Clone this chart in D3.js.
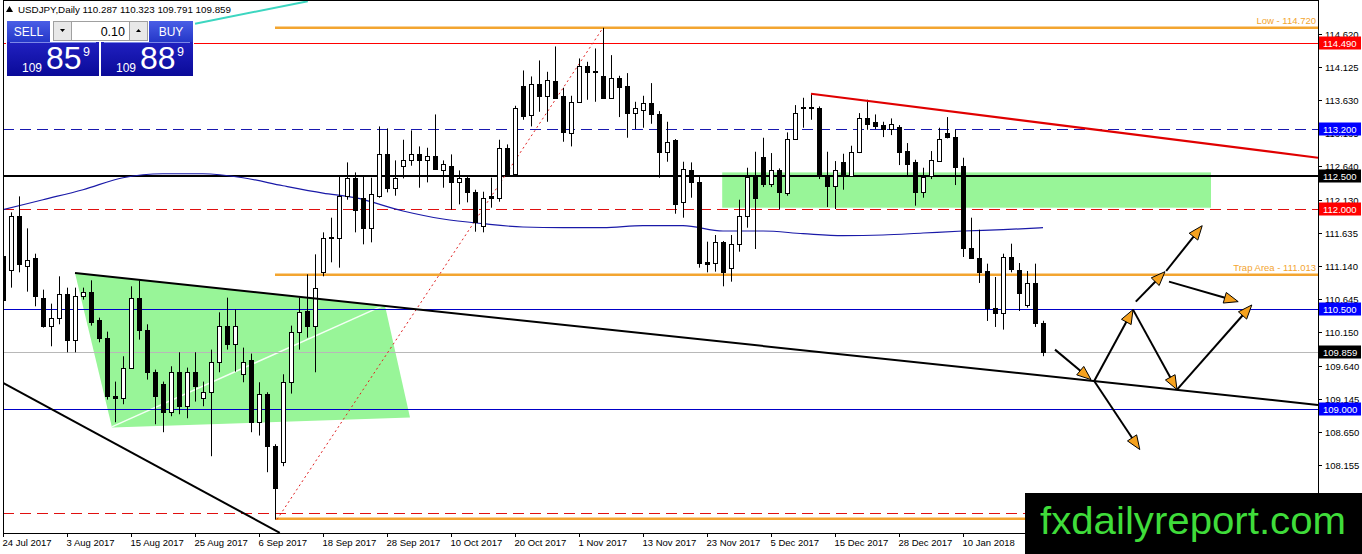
<!DOCTYPE html>
<html><head><meta charset="utf-8">
<script src="https://cdn.jsdelivr.net/npm/d3@7"></script>
<style>
body{margin:0;background:#fff;overflow:hidden;}
svg{display:block;font-family:"Liberation Sans",Arial,sans-serif;}
</style>
</head><body>
<svg id="c" width="1362" height="554"></svg>
<script>
// ---------- DATA ----------
const symbolTitle = "USDJPY,Daily  110.287 110.323 109.791 109.859";
const dateLabels = ["24 Jul 2017","3 Aug 2017","15 Aug 2017","25 Aug 2017","6 Sep 2017","18 Sep 2017","28 Sep 2017","10 Oct 2017","20 Oct 2017","1 Nov 2017","13 Nov 2017","23 Nov 2017","5 Dec 2017","15 Dec 2017","28 Dec 2017","10 Jan 2018"];
const dateLabelBars = [0,8,16,24,32,40,48,56,64,72,80,88,96,104,112,120];
const priceTicks = [114.620,114.125,113.630,113.135,112.640,112.130,111.635,111.140,110.645,110.150,109.640,109.145,108.650,108.155,107.660];

// daily candles [open, high, low, close]
const candles = [
[111.30,111.39,110.61,110.64],[111.09,111.95,110.82,111.89],[111.89,112.19,111.05,111.17],[111.15,111.71,110.76,111.24],
[111.26,111.33,110.54,110.69],[110.66,110.79,110.22,110.24],[110.24,110.58,109.94,110.36],[110.36,110.99,110.27,110.73],
[110.73,110.82,109.85,110.03],[110.03,110.82,109.85,110.69],[110.69,110.82,110.64,110.75],[110.75,110.93,110.25,110.31],
[110.33,110.37,110.00,110.06],[110.06,110.16,109.14,109.19],[109.20,109.41,108.80,109.17],[109.17,109.79,109.07,109.62],
[109.62,110.84,109.60,110.66],[110.66,110.93,110.04,110.18],[110.19,110.27,109.44,109.55],[109.56,109.59,108.77,109.19],
[109.37,109.41,108.65,108.96],[108.96,109.64,108.89,109.55],[109.56,109.85,108.92,109.04],[109.04,109.62,108.86,109.56],
[109.56,109.85,109.11,109.35],[109.17,109.41,109.04,109.25],[109.25,109.89,108.29,109.70],[109.70,110.45,109.55,110.24],
[110.24,110.67,109.89,109.98],[109.97,110.49,109.56,110.24],[109.53,109.92,109.40,109.71],[109.73,109.83,108.65,108.80],
[108.80,109.40,108.60,109.22],[109.22,109.25,108.05,108.45],[108.45,108.47,107.34,107.82],[108.21,109.52,108.14,109.40],
[109.40,110.25,109.23,110.15],[110.15,110.67,109.89,110.46],[110.47,111.02,110.07,110.24],[110.24,111.32,109.55,110.82],
[111.06,111.65,110.99,111.56],[111.56,111.87,111.20,111.58],[111.57,112.49,111.12,112.20],[112.20,112.70,112.14,112.46],
[112.46,112.55,111.65,111.99],[112.16,112.49,111.47,111.72],[111.72,112.47,111.50,112.22],[112.20,113.24,112.17,112.82],
[112.82,113.21,112.25,112.32],[112.32,112.73,112.20,112.47],[112.64,113.04,112.46,112.73],[112.74,113.18,112.65,112.83],
[112.83,112.94,112.32,112.73],[112.74,112.92,112.40,112.80],[112.80,113.42,112.59,112.60],[112.58,112.73,112.32,112.67],
[112.65,112.82,111.99,112.41],[112.41,112.58,112.07,112.47],[112.47,112.50,112.10,112.25],[112.26,112.29,111.66,111.81],
[111.75,112.26,111.65,112.17],[112.19,112.47,112.02,112.16],[112.17,113.04,112.11,112.91],[112.91,112.97,112.50,112.52],
[112.52,113.55,112.50,113.51],[113.85,114.08,113.34,113.40],[113.41,113.99,113.24,113.88],[113.88,114.23,113.46,113.70],
[113.70,114.06,113.31,113.94],[113.92,114.44,113.66,113.67],[113.70,113.82,113.01,113.16],[113.14,113.70,112.94,113.61],
[113.61,114.26,113.60,114.15],[114.15,114.21,113.64,114.06],[114.05,114.41,113.61,114.07],[113.99,114.72,113.66,113.67],
[113.67,114.31,113.66,113.97],[113.97,114.00,113.38,113.83],[113.85,114.04,113.07,113.44],[113.44,113.61,113.20,113.52],
[113.49,113.70,113.22,113.59],[113.59,113.89,113.28,113.43],[113.43,113.47,112.47,112.85],[112.85,113.31,112.71,113.01],
[113.03,113.05,111.93,112.08],[112.11,112.71,111.87,112.60],[112.58,112.70,112.17,112.41],[112.41,112.49,111.12,111.19],
[111.21,111.51,111.05,111.18],[111.19,111.61,111.06,111.51],[111.50,111.52,110.84,111.06],[111.11,111.61,110.91,111.47],
[111.47,112.14,111.36,111.90],[111.89,112.62,111.72,112.48],[112.48,112.86,111.40,112.17],[112.78,113.07,112.33,112.38],
[112.38,112.84,112.33,112.59],[112.59,112.61,111.99,112.26],[112.24,113.15,112.20,113.05],[113.05,113.56,113.04,113.44],
[113.53,113.67,113.22,113.51],[113.53,113.73,113.34,113.51],[113.52,113.54,112.45,112.50],[112.50,112.86,112.03,112.35],
[112.35,112.72,112.00,112.59],[112.71,112.83,112.29,112.50],[112.50,112.95,112.49,112.86],[112.86,113.44,112.84,113.37],
[113.37,113.64,113.19,113.28],[113.30,113.42,113.20,113.25],[113.26,113.31,113.08,113.20],[113.20,113.36,113.11,113.28],
[113.23,113.26,112.66,112.86],[112.87,112.99,112.48,112.68],[112.71,112.74,112.05,112.26],[112.26,112.62,112.17,112.48],
[112.50,112.87,112.45,112.74],[112.72,113.22,112.71,113.05],[113.14,113.38,113.06,113.08],[113.08,113.19,112.36,112.63],
[112.65,112.77,111.28,111.42],[111.42,111.87,111.25,111.26],[111.26,111.69,110.89,111.05],[111.07,111.18,110.32,110.52],
[110.52,110.98,110.23,110.44],[110.44,111.33,110.19,111.28],[111.28,111.48,111.05,111.10],[111.09,111.19,110.47,110.74],
[110.56,111.07,110.52,110.89],[110.89,111.18,110.23,110.29],[110.287,110.323,109.791,109.859]
];

// moving average samples [bar, price]
const maBars   = [0,5,10,15,20,25,30,35,40,44,50,55,60,65,70,75,80,85,90,95,100,105,110,115,120,125,130];
const maValues = [111.99,112.14,112.29,112.47,112.53,112.53,112.47,112.35,112.24,112.17,111.97,111.85,111.78,111.73,111.72,111.72,111.75,111.75,111.67,111.67,111.63,111.60,111.61,111.64,111.67,111.69,111.72];

// horizontal levels
const levelValues = [114.490,113.200,112.500,112.000,110.500,109.859,109.000,107.440];
const levelLabels = ["114.490","113.200","112.500","112.000","110.500","109.859","109.000",null];
const partialLevels = [114.720,111.013,107.350];          // start at bar 34
const partialLevelText = ["Low - 114.720","Trap Area - 111.013",null];

// trend lines [bar1, price1, bar2, price2]
const blackTrend  = [9,111.04,164.375,109.06];
const blackLower  = [0,109.39,34.6,107.14];
const redTrend    = [101,113.73,164.375,112.77];
const redDotted   = [34.25,107.34,75,114.72];
const tealLine    = [24,114.78,38.1,115.12];
// zones
const greenPoly   = [[9,111.04],[47.75,110.55],[50.875,108.87],[13.625,108.72]];
const greenInner  = [13.6,108.73,47.5,110.55];
const greenRect   = [89.9,112.55,151,112.02];
// scenario arrows [bar1, price1, bar2, price2]
const arrows = [
 [131.5,109.89,136,109.44],[136.4,109.42,141.25,110.49],[141.25,110.49,146.75,109.29],
 [146.75,109.29,156.1,110.56],[141.6,110.61,145.25,111.06],[145.4,111.07,149.9,111.75],
 [145.75,110.91,154.4,110.61],[136.4,109.42,142.1,108.39]
];

// ---------- CHART ----------
const svg = d3.select('#c');
const L = 3, R = 1318, T = 0, B = 533;
const x = d3.scaleLinear().domain([0,130]).range([3,1043]);
const y = d3.scaleLinear().domain([107.1375,115.1375]).range([533,0]);

svg.append('rect').attr('width',1362).attr('height',554).attr('fill','#fff');
svg.append('defs').append('clipPath').attr('id','clip')
  .append('rect').attr('x',L).attr('y',T).attr('width',R-L).attr('height',B-T);
const g = svg.append('g').attr('clip-path','url(#clip)');

// zones
g.append('polygon').attr('points',greenPoly.map(p=>[x(p[0]),y(p[1])].join(',')).join(' '))
  .attr('fill','#98f598');
g.append('line').attr('x1',x(greenInner[0])).attr('y1',y(greenInner[1]))
  .attr('x2',x(greenInner[2])).attr('y2',y(greenInner[3]))
  .attr('stroke','#f4fff4').attr('stroke-width',1.5);
g.append('rect').attr('x',x(greenRect[0])).attr('y',y(greenRect[1]))
  .attr('width',x(greenRect[2])-x(greenRect[0])).attr('height',y(greenRect[3])-y(greenRect[1]))
  .attr('fill','#98f598');

// horizontal levels
const levelStyle = [
 {c:'#ff0000',w:1,d:null},{c:'#1818b0',w:1,d:'11,6'},{c:'#000',w:2,d:null},{c:'#e01010',w:1,d:'11,6'},
 {c:'#0000c8',w:1,d:null},{c:'#b8b8b8',w:1,d:null},{c:'#0000c8',w:1,d:null},{c:'#e01010',w:1,d:'11,6'}
];
levelValues.forEach((v,i)=>{
  const yy = Math.round(y(v))+ (levelStyle[i].w===1?0.5:0);
  g.append('line').attr('x1',L).attr('x2',R).attr('y1',yy).attr('y2',yy)
   .attr('stroke',levelStyle[i].c).attr('stroke-width',levelStyle[i].w)
   .attr('stroke-dasharray',levelStyle[i].d);
});
partialLevels.forEach((v,i)=>{
  const yy = y(v);
  g.append('line').attr('x1',x(34)).attr('x2',R).attr('y1',yy).attr('y2',yy)
   .attr('stroke','#f3a530').attr('stroke-width',2.5);
  if(partialLevelText[i]){
    g.append('text').attr('x',R-2).attr('y',yy-4).attr('text-anchor','end')
     .attr('font-size',9.5).attr('fill','#f3a530').text(partialLevelText[i]);
  }
});

// moving average
g.append('path').datum(maBars.map((b,i)=>[b,maValues[i]]))
  .attr('d',d3.line().x(d=>x(d[0])).y(d=>y(d[1])).curve(d3.curveMonotoneX))
  .attr('fill','none').attr('stroke','#1a1aa8').attr('stroke-width',1.2);

// trend lines
function seg(a,color,w,dash){
  g.append('line').attr('x1',x(a[0])).attr('y1',y(a[1])).attr('x2',x(a[2])).attr('y2',y(a[3]))
   .attr('stroke',color).attr('stroke-width',w).attr('stroke-dasharray',dash||null);
}
seg(redDotted,'#e02020',1,'2,3');

// candles
const cg = g.append('g');
candles.forEach((c,i)=>{
  const cx = Math.round(x(i)) + 0.5;
  const [o,h,l,cl] = c;
  cg.append('line').attr('x1',cx).attr('x2',cx).attr('y1',y(h)).attr('y2',y(l))
    .attr('stroke','#000').attr('stroke-width',1);
  const top = Math.round(y(Math.max(o,cl))), bot = Math.round(y(Math.min(o,cl)));
  const hgt = Math.max(1, bot-top);
  if(cl >= o){
    cg.append('rect').attr('x',cx-2).attr('y',top+0.5).attr('width',4).attr('height',hgt)
      .attr('fill','#fff').attr('stroke','#000').attr('stroke-width',1);
  } else {
    cg.append('rect').attr('x',cx-2.5).attr('y',top).attr('width',5).attr('height',hgt+1)
      .attr('fill','#000');
  }
});

seg(blackTrend,'#000',2);
seg(blackLower,'#000',2);
seg(redTrend,'#e00000',2.2);
seg(tealLine,'#3cd6c0',2);

// arrows
arrows.forEach(a=>{
  const x1=x(a[0]),y1=y(a[1]),x2=x(a[2]),y2=y(a[3]);
  const dx=x2-x1, dy=y2-y1, len=Math.hypot(dx,dy), ux=dx/len, uy=dy/len;
  const hl=14, hw=5.5;
  g.append('line').attr('x1',x1).attr('y1',y1).attr('x2',x2-ux*hl*0.6).attr('y2',y2-uy*hl*0.6)
    .attr('stroke','#000').attr('stroke-width',2);
  const bx=x2-ux*hl, by=y2-uy*hl;
  const pts=[[x2,y2],[bx-uy*hw,by+ux*hw],[bx+uy*hw,by-ux*hw]];
  g.append('polygon').attr('points',pts.map(p=>p.join(',')).join(' '))
    .attr('fill','#f6a21e').attr('stroke','#000').attr('stroke-width',1);
});

// frame
svg.append('rect').attr('x',L+0.5).attr('y',0.5).attr('width',R-L).attr('height',B)
  .attr('fill','none').attr('stroke','#000').attr('stroke-width',1);

// price axis
priceTicks.forEach(v=>{
  const yy = Math.round(y(v))+0.5;
  svg.append('line').attr('x1',R).attr('x2',R+4).attr('y1',yy).attr('y2',yy).attr('stroke','#000');
  svg.append('text').attr('x',R+7).attr('y',yy+3.5).attr('font-size',9.5).attr('fill','#000').text(v.toFixed(3));
});
const boxColors = ['#ff0000','#0000ff','#000000','#ff0000','#0000ff','#000000','#0000ff'];
levelLabels.forEach((t,i)=>{
  if(!t) return;
  const yy = Math.round(y(levelValues[i]));
  svg.append('rect').attr('x',R+1).attr('y',yy-6.5).attr('width',42).attr('height',13).attr('fill',boxColors[i]);
  svg.append('text').attr('x',R+5).attr('y',yy+3.5).attr('font-size',9.5).attr('fill','#fff').text(t);
});

// date axis
dateLabels.forEach((t,i)=>{
  const xx = Math.round(x(dateLabelBars[i]))+0.5;
  svg.append('line').attr('x1',xx).attr('x2',xx).attr('y1',B).attr('y2',B+4).attr('stroke','#000');
  svg.append('text').attr('x',xx-1).attr('y',B+13).attr('font-size',9.5).attr('fill','#000').text(t);
});

// title
svg.append('path').attr('d','M6,12 L9.5,6 L13,12 Z').attr('fill','#000');
svg.append('text').attr('x',18).attr('y',13).attr('font-size',9.8).attr('fill','#000').text(symbolTitle);

// trade panel
const defs = svg.select('defs');
const g1 = defs.append('linearGradient').attr('id','hdr').attr('x1',0).attr('x2',0).attr('y1',0).attr('y2',1);
g1.append('stop').attr('offset',0).attr('stop-color','#4a5ee6');
g1.append('stop').attr('offset',1).attr('stop-color','#2437c8');
const g2 = defs.append('linearGradient').attr('id','big').attr('x1',0).attr('x2',0).attr('y1',0).attr('y2',1);
g2.append('stop').attr('offset',0).attr('stop-color','#2020c0');
g2.append('stop').attr('offset',1).attr('stop-color','#0a0a98');
const p = svg.append('g');
p.append('rect').attr('x',6).attr('y',20).attr('width',188).attr('height',57).attr('fill','#fff');
p.append('rect').attr('x',7).attr('y',21).attr('width',43).attr('height',21).attr('fill','url(#hdr)');
p.append('rect').attr('x',149).attr('y',21).attr('width',44).attr('height',21).attr('fill','url(#hdr)');
p.append('text').attr('x',28.5).attr('y',36).attr('text-anchor','middle').attr('font-size',12).attr('fill','#fff').text('SELL');
p.append('text').attr('x',171).attr('y',36).attr('text-anchor','middle').attr('font-size',12).attr('fill','#fff').text('BUY');
p.append('rect').attr('x',53.5).attr('y',21.5).attr('width',18).attr('height',19).attr('fill','#e8e8e8').attr('stroke','#a0a0a0');
p.append('rect').attr('x',71.5).attr('y',21.5).attr('width',58).attr('height',19).attr('fill','#fff').attr('stroke','#a0a0a0');
p.append('rect').attr('x',129.5).attr('y',21.5).attr('width',18).attr('height',19).attr('fill','#e8e8e8').attr('stroke','#a0a0a0');
p.append('path').attr('d','M60,29 L65,29 L62.5,32 Z').attr('fill','#000');
p.append('path').attr('d','M136,32 L141,32 L138.5,29 Z').attr('fill','#000');
p.append('text').attr('x',125).attr('y',36).attr('text-anchor','end').attr('font-size',12.5).attr('fill','#000').text('0.10');
p.append('rect').attr('x',7).attr('y',42).attr('width',92).attr('height',34).attr('fill','url(#big)');
p.append('rect').attr('x',101).attr('y',42).attr('width',92).attr('height',34).attr('fill','url(#big)');
p.append('line').attr('x1',10).attr('x2',96).attr('y1',42.5).attr('y2',42.5).attr('stroke','#7c88e8');
p.append('line').attr('x1',104).attr('x2',190).attr('y1',42.5).attr('y2',42.5).attr('stroke','#7c88e8');
[[22,'85'],[116,'88']].forEach(([bx,big])=>{
  p.append('text').attr('x',bx).attr('y',72).attr('font-size',12).attr('fill','#fff').text('109');
  p.append('text').attr('x',bx+24).attr('y',69).attr('font-size',32).attr('fill','#fff').text(big);
  p.append('text').attr('x',bx+61).attr('y',56).attr('font-size',12.5).attr('fill','#fff').text('9');
});

// watermark logo
svg.append('rect').attr('x',1025).attr('y',493).attr('width',337).attr('height',61).attr('fill','#000');
svg.append('text').attr('x',1040).attr('y',534).attr('font-size',39).attr('fill','#3fdc3a')
  .attr('textLength',306).attr('lengthAdjust','spacingAndGlyphs').text('fxdailyreport.com');
</script>
</body></html>
